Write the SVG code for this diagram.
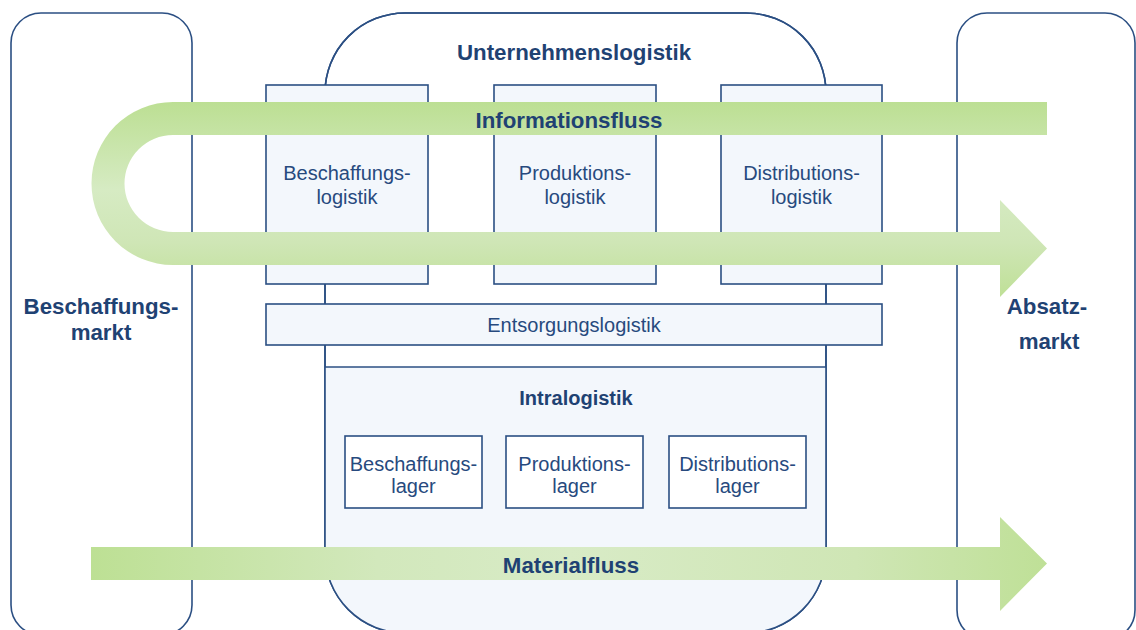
<svg xmlns="http://www.w3.org/2000/svg" width="1136" height="630" viewBox="0 0 1136 630">
  <defs>
    <style>
      .frame { fill: #ffffff; stroke: #2b4f83; stroke-width: 1.6; }
      .box { fill: #f3f7fc; stroke: #2b4f83; stroke-width: 1.6; }
      .lager { fill: #ffffff; stroke: #2b4f83; stroke-width: 1.6; }
      .t { font-family: "Liberation Sans", Arial, sans-serif; font-size: 20px; fill: #274a7e; text-anchor: middle; }
      .b { font-family: "Liberation Sans", Arial, sans-serif; font-size: 22.3px; font-weight: bold; fill: #1f4273; text-anchor: middle; }
    </style>
    <linearGradient id="gInfo" x1="0" y1="0" x2="0" y2="1">
      <stop offset="0" stop-color="#bcdf93"/>
      <stop offset="0.45" stop-color="#d6ebc3"/>
      <stop offset="0.72" stop-color="#cfe6b6"/>
      <stop offset="1" stop-color="#bfe097"/>
    </linearGradient>
    <linearGradient id="gMat" x1="0" y1="0" x2="1" y2="0">
      <stop offset="0" stop-color="#bde094"/>
      <stop offset="0.3" stop-color="#d2e8bc"/>
      <stop offset="0.5" stop-color="#d8ebc6"/>
      <stop offset="0.8" stop-color="#cfe6b5"/>
      <stop offset="1" stop-color="#bfe097"/>
    </linearGradient>
    <clipPath id="lowerClip">
      <rect x="300" y="367" width="560" height="300"/>
    </clipPath>
  </defs>

  <g id="beschaffungsmarkt">
    <rect class="frame" x="11" y="13" width="181" height="622" rx="30" ry="30"/>
    <text class="b" x="101" y="314">Beschaffungs-</text>
    <text class="b" x="101" y="340">markt</text>
  </g>

  <g id="absatzmarkt">
    <rect class="frame" x="957" y="13" width="178" height="627" rx="30" ry="30"/>
    <text class="b" x="1047" y="314">Absatz-</text>
    <text class="b" x="1049" y="349">markt</text>
  </g>

  <g id="unternehmenslogistik">
    <rect class="frame" x="325" y="13" width="501" height="620" rx="80" ry="80"/>
    <rect x="325" y="13" width="501" height="620" rx="80" ry="80" fill="#f3f7fc" clip-path="url(#lowerClip)"/>
    <rect x="325" y="13" width="501" height="620" rx="80" ry="80" fill="none" stroke="#2b4f83" stroke-width="1.6"/>
    <text class="b" x="574" y="60">Unternehmenslogistik</text>
  </g>

  <g id="intralogistik">
    <line x1="325" y1="367" x2="826" y2="367" stroke="#2b4f83" stroke-width="1.6"/>
    <text class="b" x="576" y="405" style="font-size:20px">Intralogistik</text>
  </g>

  <g id="beschaffungslogistik">
    <rect class="box" x="266" y="85" width="162" height="199"/>
    <text class="t" x="347" y="180">Beschaffungs-</text>
    <text class="t" x="347" y="204">logistik</text>
  </g>
  <g id="produktionslogistik">
    <rect class="box" x="494" y="85" width="162" height="199"/>
    <text class="t" x="575" y="180">Produktions-</text>
    <text class="t" x="575" y="204">logistik</text>
  </g>
  <g id="distributionslogistik">
    <rect class="box" x="721" y="85" width="161" height="199"/>
    <text class="t" x="801.5" y="180">Distributions-</text>
    <text class="t" x="801.5" y="204">logistik</text>
  </g>

  <g id="entsorgungslogistik">
    <rect class="box" x="266" y="304" width="616" height="41"/>
    <text class="t" x="574" y="332">Entsorgungslogistik</text>
  </g>

  <g id="beschaffungslager">
    <rect class="lager" x="345" y="436" width="137" height="72"/>
    <text class="t" x="413.5" y="471">Beschaffungs-</text>
    <text class="t" x="413.5" y="493">lager</text>
  </g>
  <g id="produktionslager">
    <rect class="lager" x="506" y="436" width="137" height="72"/>
    <text class="t" x="574.5" y="471">Produktions-</text>
    <text class="t" x="574.5" y="493">lager</text>
  </g>
  <g id="distributionslager">
    <rect class="lager" x="669" y="436" width="137" height="72"/>
    <text class="t" x="737.5" y="471">Distributions-</text>
    <text class="t" x="737.5" y="493">lager</text>
  </g>

  <g id="connectors">
    <g id="informationsfluss">
      <path fill="url(#gInfo)" d="M1047,102 L173,102 A81.5,81.5 0 0 0 173,265 L1000,265 L1000,297 L1047,248.5 L1000,200 L1000,232 L173,232 A48.5,48.5 0 0 1 173,135 L1047,135 Z"/>
      <text class="b" x="569" y="128">Informationsfluss</text>
    </g>
    <g id="materialfluss">
      <path fill="url(#gMat)" d="M91,547 L1000,547 L1000,517 L1047,563.5 L1000,611 L1000,580 L91,580 Z"/>
      <text class="b" x="571" y="573">Materialfluss</text>
    </g>
  </g>
</svg>
